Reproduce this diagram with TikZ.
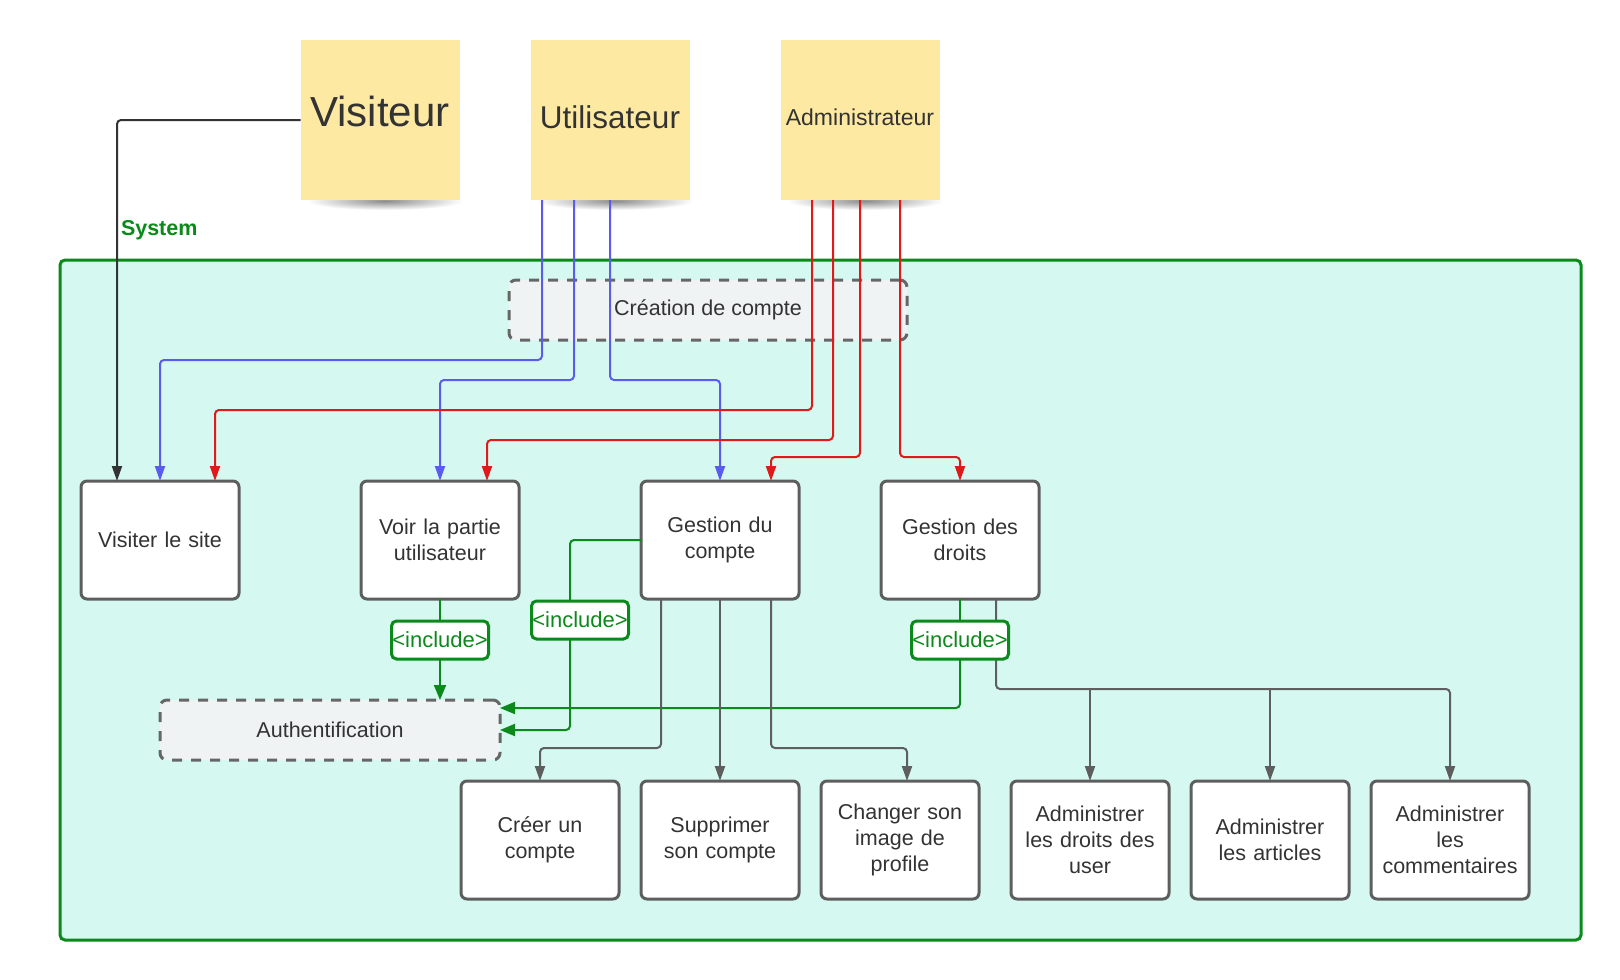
\documentclass[tikz,border=0pt]{standalone}
\usepackage{fontspec}
\setmainfont{Liberation Sans}
\usetikzlibrary{arrows.meta,calc}
\definecolor{txt}{HTML}{333333}
\definecolor{boxgray}{HTML}{5E5E5E}
\definecolor{stickyc}{HTML}{FEE9A2}
\definecolor{sysfill}{HTML}{D5F9F1}
\definecolor{sysgreen}{HTML}{0B8A1B}
\definecolor{dashfill}{HTML}{F0F3F4}
\definecolor{dashdraw}{HTML}{666666}
\definecolor{ublue}{HTML}{5B5BEE}
\definecolor{ared}{HTML}{E01A1A}
\newcommand\myfs[2]{\fontsize{#1}{#2}\selectfont}
\pgfdeclarelayer{fg}
\pgfsetlayers{main,fg}
\begin{document}
\begin{tikzpicture}[x=1pt,y=-1pt,
  every node/.style={outer sep=0pt, inner sep=0pt},
  uc/.style={draw=boxgray, line width=3pt, fill=white, rounded corners=6pt,
    minimum width=158pt, minimum height=118pt, text width=150pt, align=center,
    text=txt, font=\myfs{21.5}{26}},
  dashbox/.style={draw=dashdraw, line width=3pt, fill=dashfill, rounded corners=7pt,
    dash pattern=on 10pt off 9pt, text=txt, font=\myfs{21.5}{26}},
  sticky/.style={fill=stickyc, minimum width=159pt, minimum height=160pt},
  inc/.style={draw=sysgreen, line width=3pt, fill=white, rounded corners=5pt,
    minimum width=97pt, minimum height=38pt, text=sysgreen, font=\myfs{22}{26}},
  conn/.style={line width=2pt, rounded corners=4pt},
  arr/.style={-{Triangle[length=15pt,width=10pt]}},
  garr/.style={-{Triangle[length=15pt,width=12pt]}}
]
\useasboundingbox (0,0) rectangle (1620,980);
\fill[white] (0,0) rectangle (1620,980);

% shadows under stickies
\foreach \cx in {380,610,860}{
  \shade[inner color=black!45, outer color=white] (\cx+5,201) ellipse (78 and 9);
}
% stickies
\node[sticky] (Vis) at (380,120) {};
\node[sticky] (Util) at (610,120) {};
\node[sticky] (Admin) at (860,120) {};
\node[text=txt, font=\myfs{42}{48}] (VisT) at (380,111) {Visiteur};
\node[text=txt, font=\myfs{31.5}{36}] (UtilT) at (610,117) {Utilisateur};
\node[text=txt, font=\myfs{23}{27}] (AdminT) at (860,117) {Administrateur};

% system
\node[anchor=base west, text=sysgreen, font=\bfseries\myfs{21.5}{26}] (SysT) at (121,235) {System};
\draw[draw=sysgreen, line width=3pt, fill=sysfill, rounded corners=5pt] (60,260) rectangle (1581,940);

% dashed boxes
\node[dashbox, minimum width=398pt, minimum height=60pt] (Crea) at (708,310) {Création de compte};
\node[dashbox, minimum width=340pt, minimum height=60pt] (Auth) at (330,730) {Authentification};

% use cases row 1
\node[uc] (Visiter) at (160,540) {Visiter le site};
\node[uc] (Voir) at (440,540) {Voir la partie\\utilisateur};
\node[uc] (GC) at (720,540) {Gestion du\\compte};
\node[uc] (GD) at (960,540) {Gestion des\\droits};
% row 2
\node[uc] (Creer) at (540,840) {Créer un\\compte};
\node[uc] (Supp) at (720,840) {Supprimer\\son compte};
\node[uc] (Chang) at (900,840) {Changer son\\image de\\profile};
\node[uc] (AdD) at (1090,840) {Administrer\\les droits des\\user};
\node[uc] (AdA) at (1270,840) {Administrer\\les articles};
\node[uc] (AdC) at (1450,840) {Administrer\\les\\commentaires};

% include labels (on top of their connectors)
\begin{pgfonlayer}{fg}
\node[inc] (inc1) at (440,640) {<include>};
\node[inc] (inc2) at (580,620) {<include>};
\node[inc] (inc3) at (960,640) {<include>};
\end{pgfonlayer}

% visitor
\draw[conn, arr, draw=txt] (Vis.west) -| ([xshift=-43]Visiter.north);
% user (blue)
\draw[conn, arr, draw=ublue] ([xshift=-68]Util.south) -- ++(0,160) -| (Visiter.north);
\draw[conn, arr, draw=ublue] ([xshift=-36]Util.south) -- ++(0,180) -| (Voir.north);
\draw[conn, arr, draw=ublue] (Util.south) -- ++(0,180) -| (GC.north);
% admin (red)
\draw[conn, arr, draw=ared] ([xshift=-48]Admin.south) -- ++(0,210) -| ([xshift=55]Visiter.north);
\draw[conn, arr, draw=ared] ([xshift=-27]Admin.south) -- ++(0,240) -| ([xshift=47]Voir.north);
\draw[conn, arr, draw=ared] (Admin.south) -- ++(0,257) -| ([xshift=51]GC.north);
\draw[conn, arr, draw=ared] ([xshift=40]Admin.south) -- ++(0,257) -| (GD.north);

% includes (green)
\draw[conn, draw=sysgreen] (Voir.south) -- (inc1.north);
\draw[conn, garr, draw=sysgreen] (inc1.south) -- (inc1.south |- Auth.north);
\draw[conn, draw=sysgreen] (GC.west) -| ([xshift=-10]inc2.north);
\draw[conn, garr, draw=sysgreen] ([xshift=-10]inc2.south) |- (Auth.east);
\draw[conn, draw=sysgreen] (GD.south) -- (inc3.north);
\draw[conn, garr, draw=sysgreen] (inc3.south) |- ([yshift=22]Auth.east);

% gray sub use cases
\draw[conn, arr, draw=boxgray] ([xshift=-59]GC.south) -- ++(0,149) -| (Creer.north);
\draw[conn, arr, draw=boxgray] (GC.south) -- (Supp.north);
\draw[conn, arr, draw=boxgray] ([xshift=51]GC.south) -- ++(0,149) -| ([xshift=7]Chang.north);
\coordinate (gdb) at ([xshift=36,yshift=-90]GD.south);
\draw[conn, arr, draw=boxgray] ([xshift=36]GD.south) -- (gdb) -| (AdC.north);
\draw[conn, arr, draw=boxgray] (AdD.north |- gdb) -- (AdD.north);
\draw[conn, arr, draw=boxgray] (AdA.north |- gdb) -- (AdA.north);
\end{tikzpicture}
\end{document}
